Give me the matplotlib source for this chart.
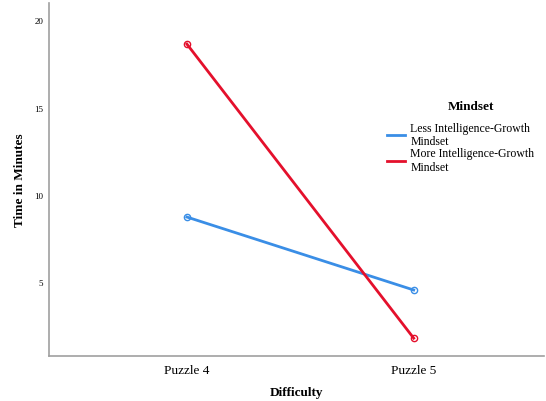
import matplotlib
matplotlib.use("Agg")
import matplotlib.pyplot as plt
from matplotlib.lines import Line2D

categories = ["Puzzle 4", "Puzzle 5"]
less_growth = [8.74, 4.56]
more_growth = [18.65, 1.8]
series_names = ["Less Intelligence-Growth\nMindset", "More Intelligence-Growth\nMindset"]
yticks = [5, 10, 15, 20]

plt.rcParams['font.family'] = ['Liberation Serif', 'DejaVu Serif']

fig = plt.figure(figsize=(5.46, 4.02), dpi=100)
ax = fig.add_axes([0.0897, 0.112, 0.906, 0.878])

blue = '#3a8ee6'
red = '#e4102c'
x = list(range(len(categories)))
ax.plot(x, less_growth, color=blue, lw=2.0, marker='o', ms=4.5, mfc='none', mec=blue, mew=1.0)
ax.plot(x, more_growth, color=red, lw=2.0, marker='o', ms=4.5, mfc='none', mec=red, mew=1.0)

ax.set_xlim(-0.608, 1.573)
ax.set_ylim(0.78, 21.0)
ax.set_xticks(x)
ax.set_xticklabels(categories, fontsize=9.5)
ax.set_yticks(yticks)
ax.set_yticklabels([str(t) for t in yticks], fontsize=6.5)
ax.tick_params(length=0)
ax.tick_params(axis='y', pad=4)
ax.tick_params(axis='x', pad=6)
for s in ['top', 'right']:
    ax.spines[s].set_visible(False)
for s in ['left', 'bottom']:
    ax.spines[s].set_color('#a0a0a0')
    ax.spines[s].set_linewidth(1.2)

ax.set_xlabel("Difficulty", fontsize=9.5, fontweight='bold', labelpad=7)
ax.set_ylabel("Time in Minutes", fontsize=9.5, fontweight='bold')
ax.yaxis.set_label_coords(-0.047, 0.5)

handles = [Line2D([0], [0], color=blue, lw=2.0), Line2D([0], [0], color=red, lw=2.0)]
leg = fig.legend(handles, series_names, loc='upper left',
                 bbox_to_anchor=(0.708, 0.695), frameon=False, fontsize=8.5,
                 handlelength=1.6, handletextpad=0.4, labelspacing=0.0,
                 borderaxespad=0, borderpad=0)
fig.text(471 / 546, 1 - 107 / 402, "Mindset", ha='center', va='center',
         fontsize=9.5, fontweight='bold')

fig.savefig("out.png", dpi=100)
